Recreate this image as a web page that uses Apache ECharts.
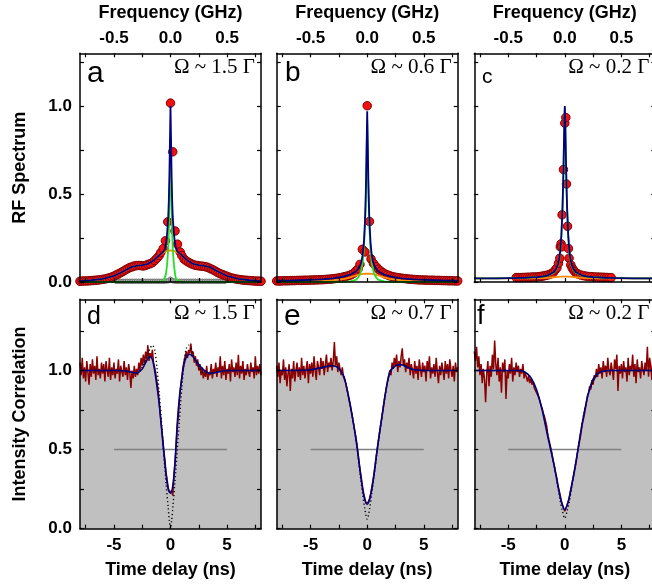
<!DOCTYPE html>
<html><head><meta charset="utf-8">
<script src="https://cdn.jsdelivr.net/npm/echarts@6/dist/echarts.min.js"></script>
<style>html,body{margin:0;padding:0;overflow:hidden;background:#fff}#c{width:660px;height:585px}</style>
</head><body><div id="c"></div><script>
// ---------- Top row: RF spectrum (frequency in GHz) ----------
const freqTicks = [-0.75,-0.5,-0.25,0,0.25,0.5,0.75];
const freqLabels = [-0.5,0,0.5];
const specTicks = [0,0.25,0.5,0.75,1.0,1.25];
const corrTicks = [0,0.25,0.5,0.75,1.0,1.25];
const yLabels = [0,0.5,1.0];
const timeTicks = [-7.5,-5,-2.5,0,2.5,5,7.5];
const timeLabels = [-5,0,5];

const freqA = [-0.80,-0.78,-0.76,-0.74,-0.72,-0.70,-0.68,-0.66,-0.64,-0.62,-0.60,-0.58,-0.56,-0.54,-0.52,-0.50,-0.48,-0.46,-0.44,-0.42,-0.40,-0.38,-0.36,-0.34,-0.32,-0.30,-0.28,-0.26,-0.24,-0.22,-0.20,-0.18,-0.16,-0.14,-0.12,-0.10,-0.086,-0.064,-0.045,-0.024,0.0,0.02,0.04,0.062,0.086,0.10,0.12,0.14,0.16,0.18,0.20,0.22,0.24,0.26,0.28,0.30,0.32,0.34,0.36,0.38,0.40,0.42,0.44,0.46,0.48,0.50,0.52,0.54,0.56,0.58,0.60,0.62,0.64,0.66,0.68,0.70,0.72,0.74,0.76,0.78,0.80];
const specA = [0.004,0.005,0.006,0.006,0.007,0.008,0.009,0.010,0.011,0.013,0.015,0.017,0.020,0.024,0.028,0.033,0.040,0.046,0.053,0.060,0.068,0.075,0.082,0.086,0.091,0.093,0.094,0.093,0.091,0.094,0.100,0.104,0.110,0.122,0.135,0.150,0.167,0.190,0.234,0.342,1.017,0.740,0.290,0.215,0.170,0.150,0.130,0.120,0.112,0.105,0.099,0.095,0.093,0.091,0.090,0.088,0.085,0.080,0.074,0.068,0.061,0.053,0.047,0.042,0.037,0.032,0.027,0.023,0.020,0.017,0.015,0.013,0.011,0.010,0.009,0.008,0.007,0.006,0.005,0.005,0.004];

const bgFreqA = [-0.48,-0.46,-0.44,-0.42,-0.40,-0.38,-0.36,-0.34,-0.32,-0.30,-0.28,-0.26,-0.24,-0.22,-0.20,-0.18,-0.16,-0.14,-0.12,-0.10,-0.08,-0.06,-0.04,-0.02,0.0,0.02,0.04,0.06,0.08,0.10,0.12,0.14,0.16,0.18,0.20,0.22,0.24,0.26,0.28,0.30,0.32,0.34,0.36,0.38,0.40,0.42,0.44,0.46,0.48];
const bgSpecA = [0.004,0.004,0.004,0.004,0.004,0.004,0.004,0.004,0.004,0.004,0.004,0.004,0.004,0.004,0.004,0.004,0.004,0.004,0.004,0.004,0.004,0.004,0.005,0.007,0.016,0.007,0.005,0.004,0.004,0.004,0.004,0.004,0.004,0.004,0.004,0.004,0.004,0.004,0.004,0.004,0.004,0.004,0.004,0.004,0.004,0.004,0.004,0.004,0.004];

const freqB = [-0.80,-0.78,-0.76,-0.74,-0.72,-0.70,-0.68,-0.66,-0.64,-0.62,-0.60,-0.58,-0.56,-0.54,-0.52,-0.50,-0.48,-0.46,-0.44,-0.42,-0.40,-0.38,-0.36,-0.34,-0.32,-0.30,-0.28,-0.26,-0.24,-0.22,-0.20,-0.18,-0.16,-0.14,-0.12,-0.10,-0.08,-0.064,-0.043,-0.02,0.0,0.02,0.034,0.055,0.08,0.10,0.12,0.14,0.16,0.18,0.20,0.22,0.24,0.26,0.28,0.30,0.32,0.34,0.36,0.38,0.40,0.42,0.44,0.46,0.48,0.50,0.52,0.54,0.56,0.58,0.60,0.62,0.64,0.66,0.68,0.70,0.72,0.74,0.76,0.78,0.80];
const specB = [0.006,0.006,0.006,0.007,0.007,0.007,0.008,0.008,0.008,0.009,0.009,0.009,0.010,0.010,0.010,0.011,0.011,0.012,0.012,0.013,0.013,0.014,0.015,0.016,0.017,0.018,0.020,0.022,0.024,0.027,0.030,0.033,0.037,0.042,0.050,0.063,0.075,0.100,0.186,0.171,1.002,0.344,0.131,0.106,0.087,0.072,0.062,0.053,0.045,0.040,0.035,0.031,0.028,0.026,0.024,0.022,0.020,0.019,0.017,0.016,0.015,0.014,0.013,0.012,0.012,0.011,0.011,0.010,0.010,0.010,0.009,0.009,0.009,0.008,0.008,0.008,0.007,0.007,0.007,0.006,0.006];

const freqC = [-0.43,-0.41,-0.39,-0.37,-0.35,-0.33,-0.31,-0.29,-0.27,-0.25,-0.23,-0.21,-0.19,-0.17,-0.15,-0.13,-0.115,-0.10,-0.085,-0.07,-0.056,-0.044,-0.040,-0.033,-0.027,-0.024,-0.012,0.0,0.009,0.015,0.024,0.032,0.038,0.053,0.065,0.077,0.09,0.106,0.12,0.14,0.165,0.19,0.215,0.24,0.265,0.29,0.31,0.33,0.35,0.37,0.39,0.41];
const specC = [0.025,0.025,0.025,0.026,0.026,0.027,0.027,0.028,0.028,0.029,0.030,0.032,0.034,0.037,0.040,0.044,0.049,0.055,0.068,0.080,0.106,0.135,0.200,0.217,0.200,0.382,0.639,0.903,0.935,0.557,0.317,0.190,0.135,0.097,0.080,0.068,0.058,0.049,0.045,0.040,0.036,0.033,0.031,0.030,0.029,0.028,0.027,0.027,0.026,0.026,0.025,0.025];

// fit curves sampled on a shared frequency grid
const fitFreq = [-0.8,-0.7,-0.6,-0.5,-0.45,-0.4,-0.35,-0.3,-0.25,-0.2,-0.15,-0.1,-0.08,-0.06,-0.05,-0.04,-0.03,-0.02,-0.015,-0.01,-0.005,0,0.005,0.01,0.015,0.02,0.03,0.04,0.05,0.06,0.08,0.1,0.15,0.2,0.25,0.3,0.35,0.4,0.45,0.5,0.6,0.7,0.8];
const fitTotalA = [0.005,0.010,0.018,0.035,0.050,0.066,0.084,0.092,0.096,0.103,0.122,0.152,0.163,0.174,0.187,0.220,0.275,0.370,0.460,0.600,0.800,1.000,0.800,0.600,0.460,0.370,0.275,0.220,0.187,0.174,0.163,0.152,0.122,0.103,0.096,0.092,0.084,0.066,0.050,0.035,0.018,0.010,0.005];
const fitCohA = [0,0,0,0,0,0,0,0,0,0,0.001,0.002,0.004,0.008,0.015,0.045,0.100,0.190,0.280,0.420,0.620,0.820,0.620,0.420,0.280,0.190,0.100,0.045,0.015,0.008,0.004,0.002,0.001,0,0,0,0,0,0,0,0,0,0];
const fitIncA = [0.005,0.010,0.018,0.035,0.050,0.066,0.084,0.092,0.096,0.103,0.122,0.152,0.162,0.168,0.172,0.174,0.176,0.178,0.179,0.180,0.180,0.180,0.180,0.180,0.179,0.178,0.176,0.174,0.172,0.168,0.162,0.152,0.122,0.103,0.096,0.092,0.084,0.066,0.050,0.035,0.018,0.010,0.005];
const fitTotalB = [0.007,0.008,0.010,0.012,0.013,0.015,0.018,0.021,0.026,0.032,0.042,0.060,0.075,0.098,0.120,0.155,0.220,0.340,0.440,0.580,0.780,0.970,0.780,0.580,0.440,0.340,0.220,0.155,0.120,0.098,0.075,0.060,0.042,0.032,0.026,0.021,0.018,0.015,0.013,0.012,0.010,0.008,0.007];
const fitCohB = [0,0,0,0,0,0,0,0,0,0.001,0.004,0.012,0.025,0.050,0.075,0.110,0.180,0.300,0.400,0.540,0.740,0.920,0.740,0.540,0.400,0.300,0.180,0.110,0.075,0.050,0.025,0.012,0.004,0.001,0,0,0,0,0,0,0,0,0];
const fitIncB = [0.002,0.002,0.003,0.004,0.005,0.006,0.008,0.010,0.013,0.018,0.026,0.037,0.041,0.044,0.045,0.046,0.047,0.047,0.048,0.048,0.048,0.048,0.048,0.048,0.048,0.047,0.047,0.046,0.045,0.044,0.041,0.037,0.026,0.018,0.013,0.010,0.008,0.006,0.005,0.004,0.003,0.002,0.002];
const fitTotalC = [0.021,0.021,0.021,0.022,0.022,0.023,0.024,0.026,0.028,0.031,0.038,0.055,0.070,0.100,0.130,0.180,0.270,0.430,0.550,0.700,0.880,1.000,0.880,0.700,0.550,0.430,0.270,0.180,0.130,0.100,0.070,0.055,0.038,0.031,0.028,0.026,0.024,0.023,0.022,0.022,0.021,0.021,0.021];
const fitCohC = [0.021,0.021,0.021,0.022,0.022,0.023,0.024,0.026,0.028,0.031,0.037,0.052,0.066,0.094,0.123,0.172,0.260,0.420,0.540,0.690,0.870,0.990,0.870,0.690,0.540,0.420,0.260,0.172,0.123,0.094,0.066,0.052,0.037,0.031,0.028,0.026,0.024,0.023,0.022,0.022,0.021,0.021,0.021];
const fitIncC = [0.021,0.021,0.021,0.021,0.021,0.021,0.021,0.021,0.022,0.022,0.024,0.027,0.028,0.029,0.029,0.030,0.030,0.030,0.030,0.030,0.030,0.030,0.030,0.030,0.030,0.030,0.030,0.030,0.029,0.029,0.028,0.027,0.024,0.022,0.022,0.021,0.021,0.021,0.021,0.021,0.021,0.021,0.021];

// ---------- Bottom row: intensity correlation (time delay in ns) ----------
const timeStart = -8, timeStep = 0.1;
const corrD = [1.05,0.97,1.08,0.95,1.02,0.93,1.06,0.99,0.91,1.04,
0.96,1.07,0.98,1.03,0.94,1.09,0.97,1.01,0.95,1.05,
0.98,1.04,0.93,1.06,1.00,0.96,1.08,0.94,1.02,0.97,
1.05,0.95,1.01,0.98,1.07,0.93,1.03,0.99,0.96,1.06,
0.97,1.02,0.94,1.04,0.99,0.89,1.00,0.95,1.03,0.96,
1.01,0.97,1.05,1.00,1.08,1.03,1.10,1.04,1.12,1.07,
1.16,1.06,1.11,1.08,1.13,1.05,1.02,0.98,0.93,0.88,
0.80,0.72,0.65,0.58,0.50,0.44,0.36,0.31,0.26,0.23,
0.22,0.24,0.21,0.33,0.42,0.53,0.64,0.72,0.82,0.90,
0.96,1.02,1.06,1.09,1.12,1.08,1.13,1.11,1.17,1.09,
1.12,1.05,1.09,1.03,1.07,1.00,1.04,0.97,1.02,0.95,
1.00,0.96,1.03,0.94,0.99,0.97,1.04,0.95,1.01,0.98,
1.05,0.96,1.02,0.99,1.09,0.95,1.03,0.97,1.06,0.94,
1.01,0.98,1.04,0.93,1.07,0.99,1.02,0.96,1.05,0.97,
1.10,0.95,1.03,0.98,1.06,0.94,1.01,0.97,1.04,0.99,
0.96,1.05,0.99,1.02,0.95,1.09,0.97,1.03,0.98,1.04,
0.97];
const corrE = [1.03,0.96,1.05,0.92,1.00,0.97,1.07,0.94,1.02,0.90,
0.98,1.04,0.87,1.01,0.95,1.06,0.93,1.00,1.05,0.96,
1.02,0.94,1.08,0.97,1.03,0.95,1.01,1.06,0.92,1.04,
0.98,1.05,0.96,1.09,1.00,0.94,1.06,1.02,0.97,1.08,
1.01,1.06,0.97,1.04,1.10,0.99,1.05,1.02,1.08,1.00,
1.06,1.18,1.03,1.09,0.99,1.05,1.01,0.97,1.02,0.96,
0.95,0.92,0.88,0.85,0.81,0.78,0.74,0.70,0.66,0.62,
0.58,0.53,0.47,0.41,0.36,0.31,0.26,0.22,0.19,0.16,
0.15,0.17,0.19,0.22,0.26,0.30,0.35,0.40,0.46,0.51,
0.56,0.61,0.66,0.70,0.75,0.80,0.85,0.89,0.93,0.96,
1.00,0.97,1.05,1.01,1.08,1.03,1.10,0.99,1.06,1.02,
1.09,1.14,1.03,1.07,0.99,1.05,1.01,1.08,0.97,1.04,
1.00,0.95,1.06,0.98,1.03,0.94,1.07,1.01,0.96,1.05,
0.99,1.03,0.93,1.06,1.00,1.09,0.95,1.02,0.98,1.04,
0.96,1.08,0.99,0.92,1.03,0.97,1.05,1.00,0.94,1.06,
0.98,1.04,0.95,1.07,1.01,0.96,1.03,0.93,1.05,0.99,
1.02];
const corrF = [1.12,1.06,1.15,1.02,1.09,0.97,1.04,0.92,1.01,0.95,
0.80,0.98,1.06,0.90,1.03,0.96,1.10,1.01,1.19,1.04,
0.97,1.08,0.93,1.02,0.86,1.05,0.99,1.07,0.82,1.00,
0.95,1.04,0.98,1.08,0.93,1.02,0.97,1.05,0.99,1.03,
0.96,1.01,0.98,1.04,0.95,0.99,0.96,0.93,0.97,0.92,
0.95,0.91,0.93,0.89,0.90,0.86,0.87,0.83,0.82,0.78,
0.76,0.73,0.71,0.68,0.65,0.59,0.58,0.53,0.50,0.46,
0.42,0.39,0.35,0.32,0.27,0.24,0.21,0.17,0.15,0.13,
0.11,0.12,0.15,0.17,0.20,0.24,0.27,0.31,0.34,0.38,
0.42,0.47,0.51,0.55,0.59,0.64,0.68,0.71,0.75,0.79,
0.84,0.86,0.90,0.88,0.94,0.91,0.97,0.95,1.01,0.96,
1.04,0.98,1.02,0.95,1.06,0.99,1.03,0.96,1.08,1.00,
0.97,1.05,1.00,0.94,1.07,1.01,1.10,0.87,1.03,0.98,
1.04,0.95,1.06,0.99,1.02,0.93,1.08,0.97,1.03,1.00,
1.10,0.96,1.04,0.92,1.07,0.99,1.02,0.95,1.06,1.01,
0.97,1.05,1.00,1.15,0.96,1.08,1.02,0.94,1.12,0.99,
1.04];

const fitTimeD = [-8,-6,-5,-4,-3.5,-3,-2.5,-2.2,-2,-1.8,-1.6,-1.4,-1.2,-1,-0.8,-0.6,-0.4,-0.2,0,0.2,0.4,0.6,0.8,1,1.2,1.4,1.7,2,2.3,2.7,3.2,3.6,4.2,5,6,8];
const fitCorrD = [1.0,1.0,1.0,0.998,0.99,0.985,1.01,1.05,1.075,1.086,1.07,1.0,0.9,0.79,0.64,0.49,0.35,0.25,0.225,0.27,0.42,0.67,0.84,0.95,1.04,1.085,1.103,1.085,1.057,1.02,0.99,0.982,0.99,1.0,1.0,1.0];
const idealTimeD = [-8,-5,-4,-3.5,-3,-2.5,-2,-1.8,-1.6,-1.4,-1.2,-1,-0.8,-0.6,-0.4,-0.2,-0.1,0,0.1,0.2,0.4,0.6,0.8,1,1.2,1.4,1.6,1.8,2,2.5,3,3.5,4,5,8];
const idealCorrD = [1.0,1.0,0.998,0.99,0.98,1.02,1.1,1.14,1.16,1.13,1.02,0.86,0.68,0.48,0.29,0.13,0.05,0.0,0.05,0.13,0.30,0.50,0.70,0.89,1.05,1.14,1.16,1.14,1.1,1.02,0.98,0.98,0.99,1.0,1.0];

const fitTimeE = [-8,-6,-5,-4,-3.2,-2.6,-2.2,-2,-1.6,-1.2,-0.9,-0.6,-0.3,0,0.3,0.6,0.9,1.2,1.6,2,2.5,3,3.5,4,5,6,8];
const fitCorrE = [1.0,1.0,1.005,1.018,1.03,1.02,0.98,0.95,0.82,0.66,0.52,0.35,0.21,0.155,0.21,0.34,0.51,0.66,0.85,0.99,1.03,1.036,1.022,1.008,1.0,1.0,1.0];
const idealTimeE = [-8,-5,-4,-3.2,-2.6,-2.2,-2,-1.6,-1.2,-0.9,-0.6,-0.4,-0.2,0,0.2,0.4,0.6,0.9,1.2,1.6,2,2.5,3,4,5,8];
const idealCorrE = [1.0,1.005,1.018,1.03,1.02,0.98,0.95,0.82,0.66,0.51,0.33,0.22,0.12,0.06,0.12,0.22,0.33,0.50,0.66,0.85,0.99,1.03,1.036,1.008,1.0,1.0];

const fitTimeF = [-8,-5,-4,-3.5,-3,-2.5,-2,-1.5,-1,-0.6,-0.3,0,0.3,0.6,1,1.5,2,2.5,3,3.5,4,5,8];
const fitCorrF = [1.0,1.0,1.0,0.99,0.955,0.88,0.75,0.58,0.42,0.27,0.17,0.12,0.17,0.27,0.43,0.65,0.83,0.945,0.985,0.997,1.0,1.0,1.0];
const idealTimeF = [-8,-4,-3,-2,-1,-0.6,-0.4,-0.2,0,0.2,0.4,0.6,1,2,3,4,8];
const idealCorrF = [1.0,1.0,0.955,0.75,0.42,0.26,0.17,0.11,0.065,0.11,0.17,0.26,0.43,0.83,0.985,1.0,1.0];

const halfTime = [-5,5];
const halfLevel = [0.5,0.5];

const rabiTop = ['Ω ~ 1.5 Γ','Ω ~ 0.6 Γ','Ω ~ 0.2 Γ'];
const rabiBottom = ['Ω ~ 1.5 Γ','Ω ~ 0.7 Γ','Ω ~ 0.2 Γ'];
const panelLetters = ['a','b','c','d','e','f'];

// ---------- build ----------
const zip = (xs, ys) => xs.map((x, i) => [x, ys[i]]);
const timeOf = (arr) => arr.map((v, i) => [+(timeStart + i * timeStep).toFixed(2), v]);

const SANS = '"Liberation Sans", Arial, sans-serif';
const SERIF = '"Liberation Serif", "Times New Roman", serif';
const colLeft = [80, 276.7, 474.3], colW = 181;
const rowTop = [53.3, 299.3], rowH = [228.7, 229.4];

const grid = [], xAxis = [], yAxis = [], series = [];

function baseAxis(gi, pos) {
  return {
    type: 'value', gridIndex: gi, position: pos, z: 10,
    axisLine: {show: true, onZero: false, lineStyle: {color: '#000', width: 1.5}},
    splitLine: {show: false},
    axisTick: {show: true, inside: true, length: 4, lineStyle: {color: '#000', width: 1.2}},
    axisLabel: {show: false}
  };
}
const labelStyle = {color: '#000', fontFamily: SANS, fontWeight: 'bold', fontSize: 17};
const nameStyle = {color: '#000', fontFamily: SANS, fontWeight: 'bold', fontSize: 18};

for (let r = 0; r < 2; r++) {
  for (let c = 0; c < 3; c++) {
    const gi = r * 3 + c;
    grid.push({left: colLeft[c], top: rowTop[r], width: colW, height: rowH[r], containLabel: false});
    const isTop = r === 0;
    const xm = baseAxis(gi, isTop ? 'top' : 'bottom');
    xm.min = isTop ? -0.8 : -8; xm.max = isTop ? 0.8 : 8;
    xm.axisTick.customValues = isTop ? freqTicks : timeTicks;
    xm.axisLabel = Object.assign({show: true, customValues: isTop ? freqLabels : timeLabels,
      formatter: isTop ? (v => (+v).toFixed(1)) : (v => String(v)), margin: isTop ? 6 : 8}, labelStyle);
    xm.name = isTop ? 'Frequency (GHz)' : 'Time delay (ns)';
    xm.nameLocation = 'middle'; xm.nameGap = isTop ? 31 : 32; xm.nameTextStyle = nameStyle;
    xAxis.push(xm);
    const xs = baseAxis(gi, isTop ? 'bottom' : 'top');
    xs.min = xm.min; xs.max = xm.max;
    xs.axisTick.customValues = isTop ? freqTicks : timeTicks;
    xAxis.push(xs);
    const ym = baseAxis(gi, 'left');
    ym.min = 0; ym.max = isTop ? 1.3 : 1.45;
    ym.axisTick.customValues = isTop ? specTicks : corrTicks;
    if (c === 0) {
      ym.axisLabel = Object.assign({show: true, customValues: yLabels, formatter: v => (+v).toFixed(1), margin: 8}, labelStyle);
      ym.name = isTop ? 'RF Spectrum' : 'Intensity Correlation';
      ym.nameLocation = 'middle'; ym.nameGap = 51; ym.nameTextStyle = nameStyle;
    }
    yAxis.push(ym);
    const ys = baseAxis(gi, 'right');
    ys.min = ym.min; ys.max = ym.max;
    ys.axisTick.customValues = isTop ? specTicks : corrTicks;
    yAxis.push(ys);
  }
}

function addLine(gi, data, color, width, z, extra) {
  series.push(Object.assign({type: 'line', xAxisIndex: gi * 2, yAxisIndex: gi * 2, data: data,
    showSymbol: false, symbol: 'none', silent: true, animation: false, z: z,
    lineStyle: {color: color, width: width}}, extra || {}));
}
function addDots(gi, data, size, fill, border, z) {
  series.push({type: 'scatter', xAxisIndex: gi * 2, yAxisIndex: gi * 2, data: data, symbol: 'circle',
    symbolSize: size, z: z, animation: false, silent: true,
    itemStyle: {color: fill, borderColor: border, borderWidth: 1, opacity: 1}});
}

const RED = '#f01010', REDB = '#800000', BLUE = '#000080', GREEN = '#22e022', ORANGE = '#ff8c00';
const topSets = [
  [freqA, specA, fitIncA, fitCohA, fitTotalA],
  [freqB, specB, fitIncB, fitCohB, fitTotalB],
  [freqC, specC, fitIncC, fitCohC, fitTotalC]
];
topSets.forEach((s, c) => {
  if (c === 0) addDots(0, zip(bgFreqA, bgSpecA), 4.5, '#b0b0b0', '#707070', 2);
  addDots(c, zip(s[0], s[1]), 8.5, RED, REDB, 3);
  addLine(c, zip(fitFreq, s[2]), ORANGE, 1.8, 4);
  addLine(c, zip(fitFreq, s[3]), GREEN, 1.8, 5);
  addLine(c, zip(fitFreq, s[4]), BLUE, 1.8, 6);
});

const botSets = [
  [corrD, fitTimeD, fitCorrD, idealTimeD, idealCorrD],
  [corrE, fitTimeE, fitCorrE, idealTimeE, idealCorrE],
  [corrF, fitTimeF, fitCorrF, idealTimeF, idealCorrF]
];
botSets.forEach((s, c) => {
  const gi = 3 + c;
  addLine(gi, timeOf(s[0]), '#8b0000', 1.5, 2, {areaStyle: {color: '#c0c0c0', opacity: 1}});
  addLine(gi, zip(halfTime, halfLevel), '#808080', 1.5, 3);
  addLine(gi, zip(s[3], s[4]), '#000', 1.4, 4, {smooth: 0.3, lineStyle: {color: '#000', width: 1.4, type: [1.2, 2.6]}});
  addLine(gi, zip(s[1], s[2]), BLUE, 1.6, 5, {smooth: 0.3});
});

// ---------- annotation texts ----------
const graphic = [];
function txt(text, x, y, font, align) {
  graphic.push({type: 'text', x: x, y: y, z: 100, silent: true,
    style: {text: text, fill: '#000', font: font, align: align, textAlign: align,
      verticalAlign: 'middle', textVerticalAlign: 'middle'}});
}
for (let c = 0; c < 3; c++) {
  const right = colLeft[c] + colW - 6;
  txt(rabiTop[c], right, 67, '21px ' + SERIF, 'right');
  txt(rabiBottom[c], right, 313.5, '21px ' + SERIF, 'right');
}
const letterPos = [[87, 74, 30], [285, 73, 28], [482, 77.5, 21], [87, 317, 25], [284, 317, 30], [477, 316.5, 27]];
panelLetters.forEach((L, i) => {
  const p = letterPos[i];
  txt(L, p[0], p[1], p[2] + 'px ' + SANS, 'left');
});

const chart = echarts.init(document.getElementById('c'), null, {renderer: 'canvas'});
chart.setOption({animation: false, backgroundColor: '#fff', grid: grid, xAxis: xAxis, yAxis: yAxis,
  series: series, graphic: graphic});
</script></body></html>
